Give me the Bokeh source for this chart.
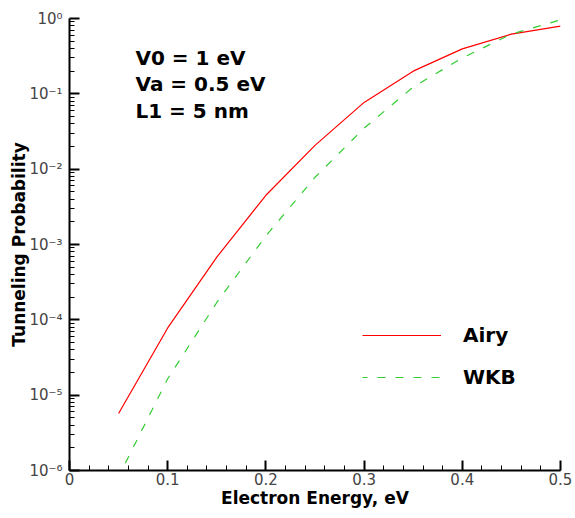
from bokeh.plotting import figure
from bokeh.models import (Range1d, SingleIntervalTicker, FixedTicker, CustomJSTickFormatter,
                          Legend, LegendItem, Label)
from bokeh.embed import file_html
from bokeh.resources import INLINE

# Data
energy = [0.05, 0.1, 0.15, 0.2, 0.25, 0.3, 0.35, 0.4, 0.45, 0.5]
airy = [5.7e-6, 7.8e-5, 6.8e-4, 4.5e-3, 2.07e-2, 7.7e-2, 2.0e-1, 3.95e-1, 6.2e-1, 7.9e-1]
wkb = [8.3e-7, 1.65e-5, 1.7e-4, 1.3e-3, 7.8e-3, 3.5e-2, 1.23e-1, 3.0e-1, 6.2e-1, 9.6e-1]
decades = [-6, -5, -4, -3, -2, -1, 0]
params = ["V0 = 1 eV", "Va = 0.5 eV", "L1 = 5 nm"]

p = figure(width=572, height=516, output_backend="svg", toolbar_location=None,
           y_axis_type="log", x_range=Range1d(0, 0.5), y_range=Range1d(1e-6, 1),
           min_border_left=69, min_border_right=12, min_border_top=18, min_border_bottom=46)
p.outline_line_color = None
p.xgrid.grid_line_color = None
p.ygrid.grid_line_color = None
p.background_fill_color = "white"
p.border_fill_color = "white"

r_airy = p.line(energy, airy, line_color="#ff0000", line_width=1.2)
r_wkb = p.line(energy, wkb, line_color="#33cc33", line_width=1.2, line_dash="8 10",
               line_dash_offset=3)

# Axes styling
for ax in (p.xaxis[0], p.yaxis[0]):
    ax.axis_line_width = 2
    ax.axis_line_color = "black"
    ax.major_tick_line_width = 2
    ax.major_tick_line_color = "black"
    ax.minor_tick_line_color = "black"
    ax.minor_tick_line_width = 1
    ax.major_tick_in = 10
    ax.major_tick_out = 0
    ax.minor_tick_in = 5
    ax.minor_tick_out = 0
    ax.major_label_text_font = "DejaVu Sans"
    ax.major_label_text_font_size = "15px"
    ax.major_label_text_color = "#444444"
    ax.axis_label_text_font = "DejaVu Sans"
    ax.axis_label_text_font_style = "bold"
    ax.axis_label_text_font_size = "17px"
    ax.axis_label_text_color = "black"

p.xaxis.ticker = SingleIntervalTicker(interval=0.1, num_minor_ticks=5)
p.xaxis.major_label_overrides = {0: "0"}
p.xaxis.major_label_standoff = 2
p.xaxis.axis_label = "Electron Energy, eV"
p.xaxis.axis_label_standoff = 0

major_y = [10.0 ** d for d in decades]
minor_y = [m * 10.0 ** d for d in decades[:-1] for m in range(2, 10)]
p.yaxis.ticker = FixedTicker(ticks=major_y, minor_ticks=minor_y)
p.yaxis.formatter = CustomJSTickFormatter(code="""
const sup = {"-":"\u207b","0":"\u2070","1":"\u00b9","2":"\u00b2","3":"\u00b3","4":"\u2074",
             "5":"\u2075","6":"\u2076","7":"\u2077","8":"\u2078","9":"\u2079"};
const e = Math.round(Math.log10(tick));
return "10" + String(e).split("").map(c => sup[c]).join("");
""")
p.yaxis.major_label_standoff = 7
p.yaxis.axis_label = "Tunneling Probability"
p.yaxis.axis_label_standoff = -3

# Parameter annotation
for i, t in enumerate(params):
    p.add_layout(Label(x=66, y=413 - i * 26.5, x_units="screen", y_units="screen", text=t,
                       text_font="DejaVu Sans", text_font_style="bold", text_font_size="20px",
                       text_baseline="alphabetic", text_color="black"))

legend = Legend(items=[LegendItem(label="Airy", renderers=[r_airy]),
                       LegendItem(label="WKB", renderers=[r_wkb])],
                location=(293, 81), padding=0, margin=0, spacing=18,
                glyph_width=79, glyph_height=20, label_height=20, label_standoff=22,
                border_line_color=None, background_fill_alpha=0,
                label_text_font="DejaVu Sans", label_text_font_style="bold",
                label_text_font_size="20px", label_text_color="black")
p.add_layout(legend)

open("out.html", "w").write(file_html(p, INLINE))
